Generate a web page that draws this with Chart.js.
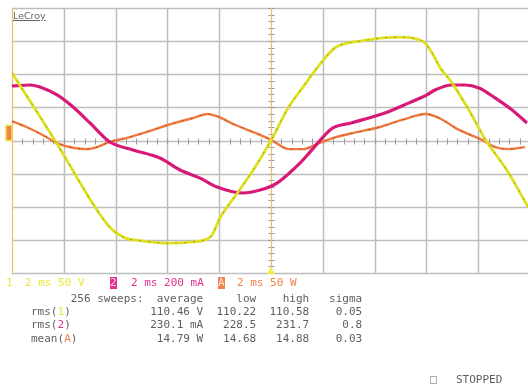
<!DOCTYPE html>
<html>
<head>
<meta charset="utf-8">
<script src="https://cdn.jsdelivr.net/npm/chart.js@4.4.1/dist/chart.umd.min.js"></script>
<style>
  html, body { margin: 0; padding: 0; background: #fff; overflow: hidden; width: 528px; height: 390px; }
  #wrap { position: relative; width: 528px; height: 390px; }
  canvas { position: absolute; left: 0; top: 0; }
  .t { position: absolute; font-family: "DejaVu Sans Mono", monospace; font-size: 11px; line-height: 12px; white-space: pre; color: #5e5e5e; }
  .y { color: #e8e83a; }
  .m { color: #e2308e; }
  .o { color: #f08050; }
  .bm { background: #e2308e; color: #ffd0ea; }
  .bo { background: #f08050; color: #ffe0c8; }
  .logo { position: absolute; left: 13px; top: 10px; font-family: "DejaVu Sans", sans-serif; font-size: 9.5px; color: #666; text-decoration: underline; }
</style>
</head>
<body>
<div id="wrap">
  <canvas id="scope" width="530" height="390"></canvas>
  <div class="logo">LeCroy</div>

  <div class="t y" style="left:6px; top:277px;">1</div>
  <div class="t y" style="left:25px; top:277px;">2 ms 50 V</div>
  <div class="t bm" style="left:110px; top:277px;">2</div>
  <div class="t m" style="left:131px; top:277px;">2 ms 200 mA</div>
  <div class="t bo" style="left:218px; top:277px;">A</div>
  <div class="t o" style="left:237px; top:277px;">2 ms 50 W</div>

  <div class="t" id="stats" style="left:31px; top:292px; line-height:13.2px;"></div>

  <div style="position:absolute; left:430px; top:376px; width:5px; height:6px; border:1px solid #b0b0b0;"></div>
  <div class="t" style="left:456px; top:374px;">STOPPED</div>
</div>

<script>
// ---- channel 1: voltage (V), 50 V/div
const vTimes  = [-10.0, -9.31, -8.34, -7.88, -7.37, -6.87, -6.22, -5.64, -5.06, -3.90, -3.01, -2.55, -2.28, -1.97, -1.31, -0.69, 0.0, 0.66, 1.24, 1.97, 2.47, 2.93, 3.44, 4.32, 4.98, 5.64, 5.95, 6.22, 6.53, 6.99, 7.64, 8.30, 9.11, 9.92];
const vValues = [102, 60, 0, -30, -64, -96, -131, -147, -151, -155, -153, -150, -143, -117, -80, -45, 0, 49, 81, 119, 140, 147, 150, 155, 156, 153, 147, 132, 110, 87, 46, 0, -45, -100];

// ---- channel 2: current (mA), 200 mA/div
const iTimes  = [-10.0, -9.31, -8.92, -8.26, -7.64, -6.99, -6.22, -5.33, -4.29, -3.51, -2.74, -2.08, -1.08, -0.42, 0.23, 1.12, 1.47, 2.01, 2.39, 3.09, 4.40, 5.33, 6.02, 6.33, 6.99, 7.49, 8.03, 8.65, 9.31, 9.88];
const iValues = [329, 335, 323, 275, 202, 106, -9, -57, -106, -178, -227, -281, -317, -299, -257, -136, -76, 21, 76, 106, 166, 227, 275, 305, 335, 335, 317, 257, 184, 106];

// ---- math A: power (W), 50 W/div
const pTimes  = [-10.0, -9.42, -8.80, -8.26, -7.64, -7.10, -6.72, -6.22, -5.56, -4.79, -4.02, -3.01, -2.43, -2.12, -1.35, -0.58, 0.0, 0.69, 1.24, 1.85, 2.51, 3.13, 4.17, 5.06, 5.98, 6.49, 7.26, 8.15, 8.65, 9.19, 9.81];
const pValues = [29, 20, 8, -4, -11, -13, -10, -2, 4, 13, 23, 34, 40, 37, 23, 11, 1, -13, -13, -4, 5, 11, 20, 31, 40, 34, 16, 1, -10, -13, -10];

// ---- measurement table
const statHeads = ['average', 'low', 'high', 'sigma'];
const statRows = [
  { name: 'rms(', ch: '1', cls: 'y', vals: ['110.46 V', '110.22', '110.58', '0.05'] },
  { name: 'rms(', ch: '2', cls: 'm', vals: ['230.1 mA', '228.5', '231.7', '0.8'] },
  { name: 'mean(', ch: 'A', cls: 'o', vals: ['14.79 W', '14.68', '14.88', '0.03'] },
];

const xDivs = [-10, -8, -6, -4, -2, 0, 2, 4, 6, 8, 10];
const yDivs = [-200, -150, -100, -50, 0, 50, 100, 150, 200];

function pts(xs, ys) {
  return xs.map((x, i) => ({ x, y: ys[i] }));
}

// right-aligned columns ending at these character positions
const colEnds = [26, 34, 42, 50];
function padTo(str, s, end) {
  while (str.length < end - s.length) str += ' ';
  return str + s;
}
let statHtml = padTo('', '256 sweeps:', 17);
statHeads.forEach((h, i) => { statHtml = padTo(statHtml, h, colEnds[i]); });
statHtml += '\n';
statRows.forEach(r => {
  let line = r.name + '<span class="' + r.cls + '">' + r.ch + '</span>)';
  let plain = r.name + r.ch + ')';
  r.vals.forEach((v, i) => {
    let sp = '';
    while (plain.length + sp.length < colEnds[i] - v.length) sp += ' ';
    plain += sp + v;
    line += sp + v;
  });
  statHtml += line + '\n';
});
document.getElementById('stats').innerHTML = statHtml;

// ---- graticule drawn from the chart scales
const graticule = {
  id: 'graticule',
  beforeDatasetsDraw(chart) {
    const { ctx, chartArea: a, scales } = chart;
    const xs = scales.x, ys = scales.yv;
    ctx.save();
    ctx.strokeStyle = '#bebebe';
    ctx.lineWidth = 1.5;
    xDivs.forEach(v => {
      if (v === 0 || v === -10) return;
      const px = Math.round(xs.getPixelForValue(v)) + 0.5;
      ctx.beginPath(); ctx.moveTo(px, a.top); ctx.lineTo(px, a.bottom); ctx.stroke();
    });
    yDivs.forEach(v => {
      const py = Math.round(ys.getPixelForValue(v)) + 0.5;
      ctx.beginPath(); ctx.moveTo(a.left, py); ctx.lineTo(a.right, py); ctx.stroke();
    });

    // centre axis ticks
    const cy = Math.round(ys.getPixelForValue(0)) + 0.5;
    const cx = Math.round(xs.getPixelForValue(0)) + 0.5;
    ctx.strokeStyle = '#999';
    ctx.lineWidth = 1;
    for (let t = -10; t <= 10.001; t += 0.4) {
      const px = Math.round(xs.getPixelForValue(t)) + 0.5;
      ctx.beginPath(); ctx.moveTo(px, cy - 3); ctx.lineTo(px, cy + 3); ctx.stroke();
    }
    for (let v = -200; v <= 200.001; v += 10) {
      const py = Math.round(ys.getPixelForValue(v)) + 0.5;
      ctx.beginPath(); ctx.moveTo(cx - 3, py); ctx.lineTo(cx + 3, py); ctx.stroke();
    }

    // centre vertical and left edge in orange
    ctx.strokeStyle = '#f5b870';
    ctx.lineWidth = 1.2;
    ctx.beginPath(); ctx.moveTo(cx, a.top); ctx.lineTo(cx, a.bottom); ctx.stroke();
    const lx = Math.round(xs.getPixelForValue(-10)) + 0.5;
    ctx.beginPath(); ctx.moveTo(lx, a.top); ctx.lineTo(lx, a.bottom); ctx.stroke();
    ctx.restore();
  },
  afterDraw(chart) {
    const { ctx, chartArea: a, scales } = chart;
    const cx = scales.x.getPixelForValue(0);
    const gy = scales.yv.getPixelForValue(0);
    ctx.save();
    // trigger marker
    ctx.fillStyle = '#f0f040';
    ctx.beginPath();
    ctx.moveTo(cx, a.bottom - 6); ctx.lineTo(cx - 4, a.bottom + 1); ctx.lineTo(cx + 4, a.bottom + 1);
    ctx.closePath(); ctx.fill();
    // ground marker on the left
    ctx.fillStyle = '#f08050';
    ctx.fillRect(a.left - 6, gy - 15, 6, 15);
    ctx.strokeStyle = '#f0e040';
    ctx.lineWidth = 1.5;
    ctx.strokeRect(a.left - 6, gy - 15, 6, 15);
    ctx.restore();
  }
};

// thin dark speckle over each trace, like the scope's persistence dots
function speckle(data, axis, order) {
  return {
    data, yAxisID: axis, order,
    borderColor: 'rgba(40,30,20,0.35)',
    borderWidth: 1,
    borderDash: [2, 7],
    pointRadius: 0,
    cubicInterpolationMode: 'monotone',
  };
}

new Chart(document.getElementById('scope'), {
  type: 'line',
  data: {
    datasets: [
      speckle(pts(vTimes, vValues), 'yv', 0),
      {
        label: 'V',
        data: pts(vTimes, vValues),
        yAxisID: 'yv',
        borderColor: '#e0e022',
        borderWidth: 2.8,
        pointRadius: 0,
        cubicInterpolationMode: 'monotone',
        order: 1,
      },
      speckle(pts(iTimes, iValues), 'yi', 2),
      {
        label: 'mA',
        data: pts(iTimes, iValues),
        yAxisID: 'yi',
        borderColor: '#dc1a7a',
        borderWidth: 3.2,
        pointRadius: 0,
        cubicInterpolationMode: 'monotone',
        order: 3,
      },
      speckle(pts(pTimes, pValues), 'yp', 4),
      {
        label: 'W',
        data: pts(pTimes, pValues),
        yAxisID: 'yp',
        borderColor: '#f07a3e',
        borderWidth: 2.4,
        pointRadius: 0,
        cubicInterpolationMode: 'monotone',
        order: 5,
      },
    ]
  },
  options: {
    responsive: false,
    animation: false,
    devicePixelRatio: 1,
    events: [],
    layout: { padding: { left: 12, top: 8, right: 0, bottom: 117 } },
    plugins: { legend: { display: false }, tooltip: { enabled: false } },
    scales: {
      x: { type: 'linear', min: -10, max: 10, display: false },
      yv: { type: 'linear', min: -200, max: 200, display: false },
      yi: { type: 'linear', min: -800, max: 800, display: false },
      yp: { type: 'linear', min: -200, max: 200, display: false },
    }
  },
  plugins: [graticule]
});
</script>
</body>
</html>
